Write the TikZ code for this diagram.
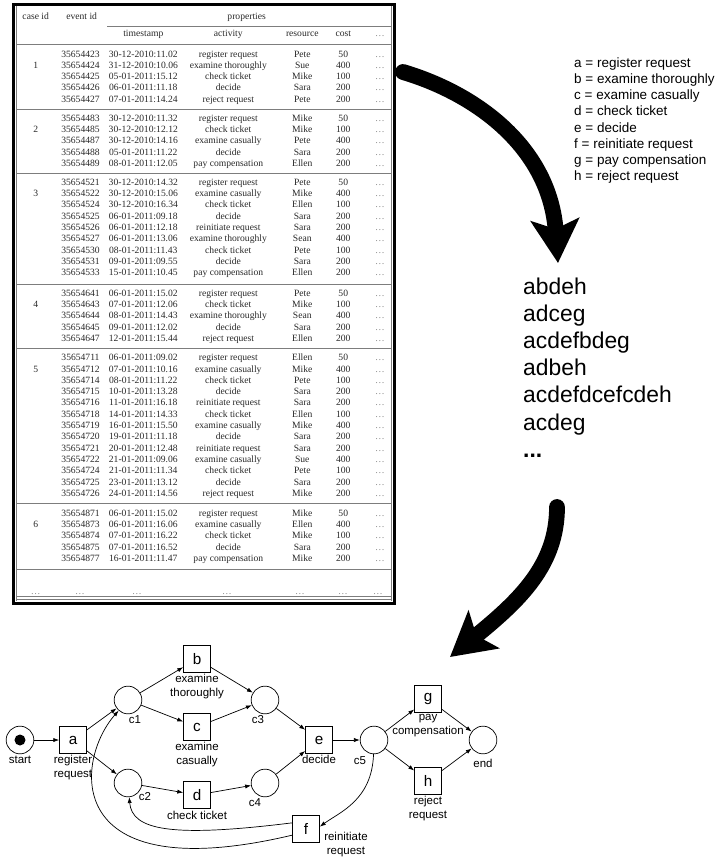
\documentclass[tikz,border=0pt]{standalone}
\usepackage{fontspec}
\setmainfont{Liberation Serif}
\setsansfont{Liberation Sans}
\usetikzlibrary{positioning,arrows.meta}
\definecolor{RuleGray}{RGB}{125,125,125}
\definecolor{CellInk}{RGB}{40,40,40}
\definecolor{DotGray}{RGB}{135,135,135}

\newcommand{\caserows}[2]{%
  \foreach \id/\ts/\act/\res/\cost [count=\k, evaluate=\k as \y using #1+(\k-1)*11.3] in {#2}{
    \node[cell] (ev\id) at (80.5,\y) {\id};
    \node[cell] (ts\id) at (143.3,\y) {\ts};
    \node[cell] (act\id) at (228.3,\y) {\act};
    \node[cell] (res\id) at (302.3,\y) {\res};
    \node[cell] (cost\id) at (343.3,\y) {\cost};
    \node[moredots] (more\id) at (380,\y) {\dots};
  }}

\begin{document}
\begin{tikzpicture}[
    x=0.03cm, y=-0.03cm,
    cell/.style={font=\fontsize{8.2}{9.8}\selectfont, text=CellInk, inner sep=0pt, text height=1.5ex, text depth=.35ex},
    moredots/.style={cell, text=DotGray},
    tabrule/.style={draw=RuleGray, line width=0.5pt},
    logframe/.style={draw=black, line width=2.4pt},
    legline/.style={font=\sffamily\fontsize{11.5}{13.8}\selectfont, inner sep=0pt, anchor=base west},
    tracetxt/.style={font=\sffamily\fontsize{19.5}{23}\selectfont, inner sep=0pt, anchor=base west},
    place/.style={draw, circle, line width=0.6pt, minimum size=0.83cm, inner sep=0pt},
    token/.style={circle, fill=black, minimum size=0.33cm, inner sep=0pt},
    trans/.style={draw, rectangle, line width=0.6pt, minimum size=0.81cm, inner sep=0pt, font=\sffamily\fontsize{13}{15}\selectfont},
    lbl/.style={font=\sffamily\fontsize{9.8}{12}\selectfont, align=center, inner sep=1pt},
    flow/.style={-{Latex[length=5pt,width=3.6pt]}, line width=0.6pt},
    bigarr/.style={line width=13.5pt, line cap=round, -{Stealth[length=37pt,width=41pt,inset=8pt]}},
    on grid
  ]
  \useasboundingbox (0,0) rectangle (715,859);

  \draw[logframe] (13.2,4.8) rectangle (394.8,603.2);
  \draw[tabrule] (15.8,6) -- (15.8,600.5) (391,6) -- (391,600.5);
  \draw[tabrule] (107,26) -- (391,26);
  \foreach \y in {44.3,109,173.3,284,348.3,503.5,569,596.3,599}
    \draw[tabrule] (15.8,\y) -- (391,\y);

  \node[cell] (hcase) at (35.7,16) {case id};
  \node[cell] (hev) at (81.7,16) {event id};
  \node[cell] (hprop) at (246.7,16) {properties};
  \node[cell] (hts) at (143.3,33) {timestamp};
  \node[cell] (hact) at (228.3,33) {activity};
  \node[cell] (hres) at (302.3,33) {resource};
  \node[cell] (hcost) at (343.3,33) {cost};
  \node[moredots] (hmore) at (380,33) {\dots};

  \caserows{54}{35654423/30-12-2010:11.02/register request/Pete/50,
    35654424/31-12-2010:10.06/examine thoroughly/Sue/400,
    35654425/05-01-2011:15.12/check ticket/Mike/100,
    35654426/06-01-2011:11.18/decide/Sara/200,
    35654427/07-01-2011:14.24/reject request/Pete/200}
  \caserows{118.3}{35654483/30-12-2010:11.32/register request/Mike/50,
    35654485/30-12-2010:12.12/check ticket/Mike/100,
    35654487/30-12-2010:14.16/examine casually/Pete/400,
    35654488/05-01-2011:11.22/decide/Sara/200,
    35654489/08-01-2011:12.05/pay compensation/Ellen/200}
  \caserows{182.3}{35654521/30-12-2010:14.32/register request/Pete/50,
    35654522/30-12-2010:15.06/examine casually/Mike/400,
    35654524/30-12-2010:16.34/check ticket/Ellen/100,
    35654525/06-01-2011:09.18/decide/Sara/200,
    35654526/06-01-2011:12.18/reinitiate request/Sara/200,
    35654527/06-01-2011:13.06/examine thoroughly/Sean/400,
    35654530/08-01-2011:11.43/check ticket/Pete/100,
    35654531/09-01-2011:09.55/decide/Sara/200,
    35654533/15-01-2011:10.45/pay compensation/Ellen/200}
  \caserows{293.3}{35654641/06-01-2011:15.02/register request/Pete/50,
    35654643/07-01-2011:12.06/check ticket/Mike/100,
    35654644/08-01-2011:14.43/examine thoroughly/Sean/400,
    35654645/09-01-2011:12.02/decide/Sara/200,
    35654647/12-01-2011:15.44/reject request/Ellen/200}
  \caserows{357.7}{35654711/06-01-2011:09.02/register request/Ellen/50,
    35654712/07-01-2011:10.16/examine casually/Mike/400,
    35654714/08-01-2011:11.22/check ticket/Pete/100,
    35654715/10-01-2011:13.28/decide/Sara/200,
    35654716/11-01-2011:16.18/reinitiate request/Sara/200,
    35654718/14-01-2011:14.33/check ticket/Ellen/100,
    35654719/16-01-2011:15.50/examine casually/Mike/400,
    35654720/19-01-2011:11.18/decide/Sara/200,
    35654721/20-01-2011:12.48/reinitiate request/Sara/200,
    35654722/21-01-2011:09.06/examine casually/Sue/400,
    35654724/21-01-2011:11.34/check ticket/Pete/100,
    35654725/23-01-2011:13.12/decide/Sara/200,
    35654726/24-01-2011:14.56/reject request/Mike/200}
  \caserows{513}{35654871/06-01-2011:15.02/register request/Mike/50,
    35654873/06-01-2011:16.06/examine casually/Ellen/400,
    35654874/07-01-2011:16.22/check ticket/Mike/100,
    35654875/07-01-2011:16.52/decide/Sara/200,
    35654877/16-01-2011:11.47/pay compensation/Mike/200}

  \foreach \c/\y in {1/65.3,2/129.6,3/193.6,4/304.6,5/369,6/524.3}
    \node[cell] (case\c) at (35.7,\y) {\c};
  \foreach \x [count=\k] in {35.7,80,137,227,300,343,378}
    \node[moredots] (tail\k) at (\x,591.7) {\dots};

  \foreach \t [count=\i] in {a = register request, b = examine thoroughly,
      c = examine casually, d = check ticket, e = decide,
      f = reinitiate request, g = pay compensation, h = reject request}
    \node[legline] (leg\i) at (574,{67.3+(\i-1)*16.2}) {\t};

  \foreach \t [count=\i] in {abdeh, adceg, acdefbdeg, adbeh, acdefdcefcdeh, acdeg}
    \node[tracetxt] (tr\i) at (523,{294+(\i-1)*27.2}) {\t};
  \node[tracetxt] (tr7) at (523,457) {\bfseries ...};

  \coordinate (logout) at (403,72);
  \coordinate (tracein) at (558,263);
  \coordinate (traceout) at (557,507);
  \coordinate (netin) at (450,657);
  \draw[bigarr] (logout) .. controls (480,95) and (550,150) .. (tracein);
  \draw[bigarr] (traceout) .. controls (557,565) and (520,600) .. (netin);

  \node[place] (start) at (20,740) {};
  \node[token] (tok) at (start) {};
  \node[trans, right=15.9mm of start] (a) {a};
  \node[place, above right=12mm and 16.5mm of a] (c1) {};
  \node[place, below right=12.9mm and 16.5mm of a] (c2) {};
  \node[trans, above right=12.3mm and 20.7mm of c1] (b) {b};
  \node[trans, below right=8.1mm and 20.7mm of c1] (c) {c};
  \node[trans, below right=3.6mm and 20.7mm of c2] (d) {d};
  \node[place, right=41.1mm of c1] (c3) {};
  \node[place, right=41.1mm of c2] (c4) {};
  \node[trans, below right=12mm and 16.2mm of c3] (e) {e};
  \node[place, right=16.5mm of e] (c5) {};
  \node[trans, above right=12.3mm and 16.2mm of c5] (g) {g};
  \node[trans, below right=12.3mm and 16.2mm of c5] (h) {h};
  \node[place, right=32.7mm of c5] (end) {};
  \node[trans, below left=26.7mm and 3.9mm of e] (f) {f};

  \node[lbl] (startl) at ([shift={(0,20)}]start.center) {start};
  \node[lbl, anchor=north] (al) at (a.south) {register\\request};
  \node[lbl, anchor=north] (bl) at (b.south) {examine\\thoroughly};
  \node[lbl, anchor=north] (cl) at (c.south) {examine\\casually};
  \node[lbl, anchor=north] (dl) at ([shift={(0,1)}]d.south) {check ticket};
  \node[lbl, anchor=north] (el) at (e.south) {decide};
  \node[lbl, anchor=north] (gl) at (g.south) {pay\\compensation};
  \node[lbl, anchor=north] (hl) at (h.south) {reject\\request};
  \node[lbl, anchor=north west] (fl) at ([shift={(3,2)}]f.east) {reinitiate\\request};
  \node[lbl] (c1l) at ([shift={(7,20)}]c1.center) {c1};
  \node[lbl] (c2l) at ([shift={(17,14)}]c2.center) {c2};
  \node[lbl] (c3l) at ([shift={(-7,20)}]c3.center) {c3};
  \node[lbl] (c4l) at ([shift={(-10,20)}]c4.center) {c4};
  \node[lbl] (c5l) at ([shift={(-14,21)}]c5.center) {c5};
  \node[lbl] (endl) at ([shift={(0,23)}]end.center) {end};

  \draw[flow] (start) -- (a);
  \draw[flow] (a) -- (c1);
  \draw[flow] (a) -- (c2);
  \draw[flow] (c1) -- (b);
  \draw[flow] (c1) -- (c);
  \draw[flow] (c2) -- (d);
  \draw[flow] (b) -- (c3);
  \draw[flow] (c) -- (c3);
  \draw[flow] (d) -- (c4);
  \draw[flow] (c3) -- (e);
  \draw[flow] (c4) -- (e);
  \draw[flow] (e) -- (c5);
  \draw[flow] (c5) -- (g);
  \draw[flow] (c5) -- (h);
  \draw[flow] (g) -- (end);
  \draw[flow] (h) -- (end);
  \draw[flow] (c5) .. controls (372,800) and (340,812) .. (f.10);
  \draw[flow] (f.156) .. controls (170,838) and (132,830) .. (c2);
  \draw[flow] (f.204) .. controls (60,890) and (75,760) .. (c1);
\end{tikzpicture}
\end{document}
